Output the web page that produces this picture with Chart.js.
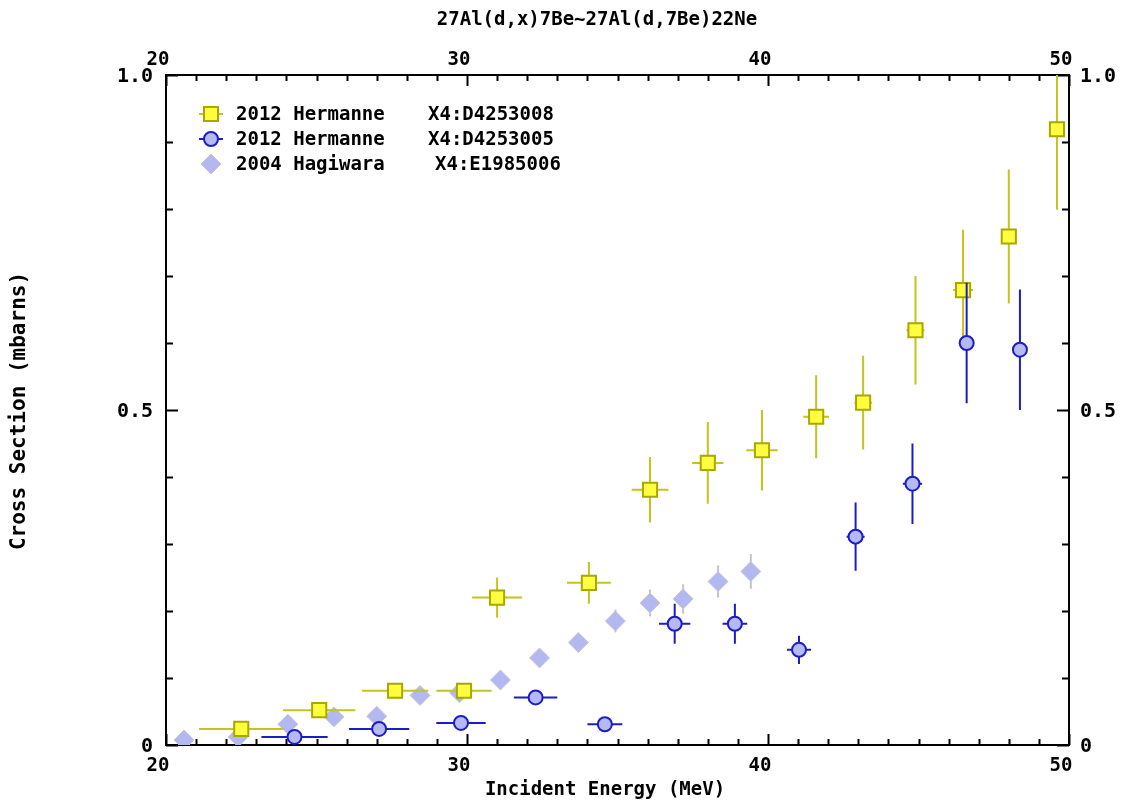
<!DOCTYPE html>
<html>
<head>
<meta charset="utf-8">
<script src="https://cdn.jsdelivr.net/npm/chart.js@4.4.1/dist/chart.umd.min.js"></script>
<style>
  html, body { margin: 0; padding: 0; background: #fff; }
  #wrap { width: 1122px; height: 801px; position: relative; }
</style>
</head>
<body>
<div id="wrap"><canvas id="c" width="1122" height="801"></canvas></div>
<script>
// ---- Data ----
const titleText = "27Al(d,x)7Be~27Al(d,7Be)22Ne";
const xTitle = "Incident Energy (MeV)";
const yTitle = "Cross Section (mbarns)";

const xTickLabels = [20, 30, 40, 50];
const yTickLabels = ["0", "0.5", "1.0"];

// 2012 Hermanne X4:D4253008 (yellow squares)
const herm1E    = [22.5, 25.09, 27.61, 29.9, 31.0, 34.05, 36.08, 38.0, 39.8, 41.6, 43.16, 44.9, 46.48, 48.0, 49.6];
const herm1V    = [0.024, 0.052, 0.081, 0.081, 0.220, 0.242, 0.381, 0.421, 0.440, 0.490, 0.511, 0.619, 0.679, 0.759, 0.919];
const herm1dE   = [1.4, 1.2, 1.1, 0.92, 0.83, 0.73, 0.61, 0.52, 0.52, 0.43, 0.29, 0.30, 0.33, 0.2, 0.2];
const herm1dV   = [0.006, 0.006, 0.006, 0.006, 0.030, 0.031, 0.049, 0.061, 0.060, 0.062, 0.070, 0.081, 0.090, 0.100, 0.120];

// 2012 Hermanne X4:D4253005 (blue circles)
const herm2E    = [24.27, 27.08, 29.8, 32.28, 34.58, 36.9, 38.9, 41.03, 42.91, 44.8, 46.6, 48.37];
const herm2V    = [0.012, 0.024, 0.033, 0.071, 0.031, 0.181, 0.181, 0.142, 0.311, 0.390, 0.600, 0.590];
const herm2dE   = [1.1, 1.0, 0.82, 0.72, 0.58, 0.52, 0.41, 0.40, 0.30, 0.32, 0.15, 0.15];
const herm2dV   = [0.004, 0.004, 0.004, 0.004, 0.004, 0.030, 0.030, 0.021, 0.051, 0.060, 0.090, 0.090];

// 2004 Hagiwara X4:E1985006 (diamonds)
const hagiE     = [20.6, 22.4, 24.05, 25.58, 27.0, 28.44, 29.75, 31.11, 32.41, 33.7, 34.93, 36.08, 37.18, 38.34, 39.43];
const hagiV     = [0.0075, 0.012, 0.031, 0.042, 0.043, 0.074, 0.078, 0.097, 0.130, 0.153, 0.185, 0.212, 0.218, 0.244, 0.259];
const hagidV    = [0.004, 0.004, 0.005, 0.006, 0.006, 0.007, 0.008, 0.010, 0.012, 0.014, 0.017, 0.020, 0.022, 0.024, 0.026];

const legendLabels = ["2012 Hermanne", "2012 Hermanne", "2004 Hagiwara"];
const legendCodes  = ["X4:D4253008", "X4:D4253005", "X4:E1985006"];

// ---- build ----
const pts = (xs, ys) => xs.map((x, i) => ({x: x, y: ys[i]}));
const FONT = "'DejaVu Sans Mono', 'Liberation Mono', monospace";

const datasets = [
  {
    label: legendLabels[0] + " " + legendCodes[0],
    data: pts(herm1E, herm1V),
    xErr: herm1dE, yErr: herm1dV, errColor: '#c4c41c',
    pointStyle: 'rect', pointRadius: 10, pointHoverRadius: 10,
    backgroundColor: '#ffff40', borderColor: '#a8a800', borderWidth: 2,
    order: 1
  },
  {
    label: legendLabels[1] + " " + legendCodes[1],
    data: pts(herm2E, herm2V),
    xErr: herm2dE, yErr: herm2dV, errColor: '#1c1cc8',
    pointStyle: 'circle', pointRadius: 7, pointHoverRadius: 7,
    backgroundColor: '#b6baf4', borderColor: '#1c1cc8', borderWidth: 2,
    order: 0
  },
  {
    label: legendLabels[2] + " " + legendCodes[2],
    data: pts(hagiE, hagiV),
    xErr: null, yErr: hagidV, errColor: '#c4c4c4',
    pointStyle: 'rectRot', pointRadius: 10, pointHoverRadius: 10,
    backgroundColor: '#b4b8f0', borderColor: '#c6c8dc', borderWidth: 1,
    order: 2
  }
];

const plugin = {
  id: 'exforDecor',
  beforeDatasetDraw(chart, args) {
    const ds = chart.data.datasets[args.index];
    const xs = chart.scales.x, ys = chart.scales.y;
    const ca = chart.chartArea;
    const ctx = chart.ctx;
    ctx.save();
    ctx.beginPath();
    ctx.rect(ca.left, ca.top, ca.right - ca.left, ca.bottom - ca.top);
    ctx.clip();
    ctx.strokeStyle = ds.errColor;
    ctx.lineWidth = 2;
    ds.data.forEach((p, i) => {
      const px = xs.getPixelForValue(p.x), py = ys.getPixelForValue(p.y);
      ctx.beginPath();
      if (ds.xErr) {
        ctx.moveTo(xs.getPixelForValue(p.x - ds.xErr[i]), py);
        ctx.lineTo(xs.getPixelForValue(p.x + ds.xErr[i]), py);
      }
      if (ds.yErr) {
        ctx.moveTo(px, ys.getPixelForValue(p.y - ds.yErr[i]));
        ctx.lineTo(px, ys.getPixelForValue(p.y + ds.yErr[i]));
      }
      ctx.stroke();
    });
    ctx.restore();
  },
  beforeDatasetsDraw(chart) {
    const ctx = chart.ctx, ca = chart.chartArea;
    const xs = chart.scales.x, ys = chart.scales.y;
    ctx.save();
    ctx.strokeStyle = '#000';
    ctx.lineWidth = 2;
    ctx.strokeRect(ca.left, ca.top, ca.right - ca.left, ca.bottom - ca.top);
    ctx.beginPath();
    for (let v = xs.min; v <= xs.max + 1e-9; v += 1) {
      const px = Math.round(xs.getPixelForValue(v)) + 0.5;
      const major = Math.abs(v % 10) < 1e-9;
      const len = major ? 11 : 6;
      ctx.moveTo(px, ca.bottom); ctx.lineTo(px, ca.bottom - len);
      ctx.moveTo(px, ca.top); ctx.lineTo(px, ca.top + len);
    }
    for (let k = 0; k <= 10; k++) {
      const v = k / 10;
      const py = Math.round(ys.getPixelForValue(v)) + 0.5;
      const major = (k % 5 === 0);
      const len = major ? 12 : 7;
      ctx.moveTo(ca.left, py); ctx.lineTo(ca.left + len, py);
      ctx.moveTo(ca.right, py); ctx.lineTo(ca.right - len, py);
    }
    ctx.stroke();
    ctx.restore();
  },
  afterDraw(chart) {
    const ctx = chart.ctx;
    ctx.save();
    ctx.fillStyle = '#000';
    ctx.font = "bold 19px " + FONT;
    ctx.textBaseline = 'middle';
    ctx.textAlign = 'center';
    ctx.fillText(titleText, 597, 20);
    ctx.fillText(xTitle, 605, 790);
    ctx.save();
    ctx.font = "bold 21px " + FONT;
    ctx.translate(20, 411);
    ctx.rotate(-Math.PI / 2);
    ctx.fillText(yTitle, 0, 0);
    ctx.restore();

    // legend
    const rows = [114, 139, 164];
    const mx = 211;
    ctx.textAlign = 'left';
    chart.data.datasets.forEach((ds, i) => {
      const y = rows[i];
      if (ds.xErr) {
        ctx.strokeStyle = ds.errColor;
        ctx.lineWidth = 2;
        ctx.beginPath();
        ctx.moveTo(mx - 12, y); ctx.lineTo(mx + 12, y);
        ctx.stroke();
      }
      ctx.fillStyle = ds.backgroundColor;
      ctx.strokeStyle = ds.borderColor;
      ctx.lineWidth = ds.borderWidth;
      ctx.beginPath();
      if (ds.pointStyle === 'rect') {
        ctx.rect(mx - 7, y - 7, 14, 14);
      } else if (ds.pointStyle === 'circle') {
        ctx.arc(mx, y, 7, 0, Math.PI * 2);
      } else {
        ctx.moveTo(mx - 10, y); ctx.lineTo(mx, y - 10); ctx.lineTo(mx + 10, y); ctx.lineTo(mx, y + 10); ctx.closePath();
      }
      ctx.fill(); ctx.stroke();
      ctx.fillStyle = '#000';
      ctx.fillText(legendLabels[i], 236, y + 1);
      ctx.fillText(legendCodes[i], i === 2 ? 435 : 428, y + 1);
    });
    ctx.restore();
  }
};

const xTickFont = { family: FONT, size: 19, weight: 'bold' };
const yTickFont = { family: FONT, size: 20, weight: 'bold' };
const xTicks = {
  stepSize: 10, font: xTickFont, color: '#000', labelOffset: -8, maxRotation: 0, autoSkip: false,
  callback: (v) => xTickLabels.includes(v) ? String(v) : ''
};
const yTicks = {
  stepSize: 0.5, font: yTickFont, color: '#000', autoSkip: false, labelOffset: 2,
  callback: (v) => { const i = Math.round(v * 2); return yTickLabels[i] !== undefined && Math.abs(v * 2 - i) < 1e-9 ? yTickLabels[i] : ''; }
};

new Chart(document.getElementById('c'), {
  type: 'scatter',
  data: { datasets: datasets },
  options: {
    responsive: false,
    animation: false,
    devicePixelRatio: 1,
    layout: { padding: 0 },
    plugins: { legend: { display: false }, tooltip: { enabled: false }, title: { display: false } },
    scales: {
      x: {
        type: 'linear', position: 'bottom', min: 20, max: 50,
        grid: { display: false, drawTicks: false }, border: { display: false },
        ticks: Object.assign({}, xTicks, { padding: 10 }),
        afterFit: (s) => { s.height = 56; }
      },
      x2: {
        type: 'linear', position: 'top', min: 20, max: 50,
        grid: { display: false, drawTicks: false }, border: { display: false },
        ticks: Object.assign({}, xTicks, { padding: 4 }),
        afterFit: (s) => { s.height = 75; }
      },
      y: {
        type: 'linear', position: 'left', min: 0, max: 1,
        grid: { display: false, drawTicks: false }, border: { display: false },
        ticks: Object.assign({}, yTicks, { padding: 13 }),
        afterFit: (s) => { s.width = 166; }
      },
      y2: {
        type: 'linear', position: 'right', min: 0, max: 1,
        grid: { display: false, drawTicks: false }, border: { display: false },
        ticks: Object.assign({}, yTicks, { padding: 11 }),
        afterFit: (s) => { s.width = 53; }
      }
    }
  },
  plugins: [plugin]
});
</script>
</body>
</html>
